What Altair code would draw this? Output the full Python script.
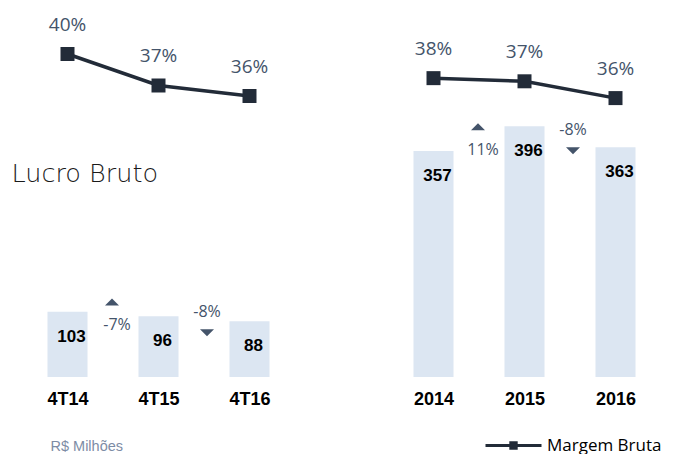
import altair as alt
import pandas as pd

# ---- data ----
quarters = ["4T14", "4T15", "4T16"]
quarter_profit = [103, 96, 88]
quarter_margin = [40.0, 37.0, 36.0]
quarter_margin_labels = ["40%", "37%", "36%"]
quarter_change_labels = ["-7%", "-8%"]
quarter_change_dirs = ["up", "down"]

years = ["2014", "2015", "2016"]
year_profit = [357, 396, 363]
year_margin = [37.7, 37.4, 35.8]
year_margin_labels = ["38%", "37%", "36%"]
year_change_labels = ["11%", "-8%"]
year_change_dirs = ["up", "down"]

SERIES = "Margem Bruta"
BAR_COLOR = "#DCE6F2"
LINE_COLOR = "#222B38"
TEXT_COLOR = "#44546A"
UP_PATH = "M-1,0.5L0,-0.5L1,0.5Z"
DOWN_PATH = "M-1,-0.5L0,0.5L1,-0.5Z"
LEGEND_PATH = "M-4,-0.22H4V0.22H-4Z M-0.6,-0.6H0.6V0.6H-0.6Z"

PANEL_W = 273
PANEL_H = 369


def panel(cats, profit, margin, mlabels, clabels, cdirs, left):
    n = len(cats)
    df = pd.DataFrame({"i": list(range(n)), "cat": cats, "profit": profit,
                       "margin": margin, "mlabel": mlabels, "series": [SERIES] * n})
    ch = pd.DataFrame({"pos": [k + 0.5 for k in range(len(clabels))],
                       "label": clabels, "dir": cdirs,
                       "mid": [(profit[k] + profit[k + 1]) / 2 for k in range(len(clabels))]})
    label_expr = "[" + ",".join(f"'{c}'" for c in cats) + "][datum.value]"

    xaxis_kw = dict(values=list(range(n)), labelExpr=label_expr, domain=False, ticks=False,
                    tickSize=0, grid=False, labelFont="Liberation Sans", labelFontWeight="bold",
                    labelFontSize=18, labelColor="black", labelPadding=13.5, labelAngle=0)
    if left:
        xaxis = alt.Axis(title="R$ Milhões", titleX=28, titleY=69, titleAlign="left",
                         titleBaseline="middle", titleFont="Liberation Sans", titleFontWeight="normal",
                         titleFontSize=14.5, titleColor="#7D8CA5", **xaxis_kw)
        yaxis = alt.Axis(title="Lucro Bruto", titleAngle=0, titleX=-11, titleY=165,
                         titleAlign="left", titleBaseline="middle", titleFont="DejaVu Sans",
                         titleFontWeight=200, titleFontSize=25.5, titleColor="#1A1A1A",
                         labels=False, ticks=False, domain=False, grid=False)
    else:
        xaxis = alt.Axis(title=None, **xaxis_kw)
        yaxis = None

    xs = alt.Scale(domain=[-0.5, n - 0.5], nice=False, zero=False, padding=0)
    ys = alt.Scale(domain=[0, 583], nice=False)

    base = alt.Chart(df)
    bars = base.mark_bar(size=40, color=BAR_COLOR).encode(
        x=alt.X("i:Q", scale=xs, axis=xaxis),
        y=alt.Y("profit:Q", scale=ys, axis=yaxis),
    )
    bar_text = base.mark_text(dy=25, dx=4, font="Liberation Sans", fontWeight="bold",
                              fontSize=17, color="black", baseline="middle").encode(
        x="i:Q", y="profit:Q", text="profit:Q")

    chb = alt.Chart(ch)
    up = chb.transform_filter(alt.datum.dir == "up")
    down = chb.transform_filter(alt.datum.dir == "down")
    tri_up = up.mark_point(shape=UP_PATH, filled=True, size=196, color=TEXT_COLOR,
                           opacity=1, yOffset=-12, xOffset=-1).encode(x="pos:Q", y="mid:Q")
    tri_down = down.mark_point(shape=DOWN_PATH, filled=True, size=196, color=TEXT_COLOR,
                               opacity=1, yOffset=14, xOffset=3).encode(x="pos:Q", y="mid:Q")
    lab_up = up.mark_text(dy=11, dx=4, font="Open Sans", fontSize=16, color=TEXT_COLOR,
                          baseline="middle").encode(x="pos:Q", y="mid:Q", text="label:N")
    lab_down = down.mark_text(dy=-7, dx=3, font="Open Sans", fontSize=16, color=TEXT_COLOR,
                              baseline="middle").encode(x="pos:Q", y="mid:Q", text="label:N")

    bar_layer = alt.layer(bars, bar_text, tri_up, tri_down, lab_up, lab_down)

    ms = alt.Scale(domain=[9.24, 44.38], nice=False, zero=False)
    line = base.mark_line(color=LINE_COLOR, strokeWidth=3.5).encode(
        x="i:Q", y=alt.Y("margin:Q", scale=ms, axis=None))
    pts = base.mark_square(size=196, opacity=1, filled=True).encode(
        x="i:Q", y=alt.Y("margin:Q", scale=ms, axis=None),
        color=alt.Color("series:N", scale=alt.Scale(domain=[SERIES], range=[LINE_COLOR]),
                        legend=alt.Legend(title=None, orient="none", legendX=483, legendY=429,
                                          symbolType=LEGEND_PATH, symbolSize=196,
                                          symbolStrokeWidth=0, labelFont="Open Sans",
                                          labelFontSize=17, labelColor="black",
                                          labelOffset=25)))
    mtext = base.mark_text(dy=-29, font="Open Sans", fontSize=19, color=TEXT_COLOR,
                           baseline="middle").encode(
        x="i:Q", y=alt.Y("margin:Q", scale=ms, axis=None), text="mlabel:N")
    line_layer = alt.layer(line, pts, mtext)

    return alt.layer(bar_layer, line_layer).resolve_scale(y="independent").properties(
        width=PANEL_W, height=PANEL_H)


left = panel(quarters, quarter_profit, quarter_margin, quarter_margin_labels,
             quarter_change_labels, quarter_change_dirs, True)
right = panel(years, year_profit, year_margin, year_margin_labels,
              year_change_labels, year_change_dirs, False)

chart = alt.hconcat(left, right, spacing=93).properties(
    padding={"left": 3, "top": 0, "right": 0, "bottom": 0}
).configure_view(stroke=None)

chart.save("out.html", embed_options={"renderer": "svg", "actions": False})
